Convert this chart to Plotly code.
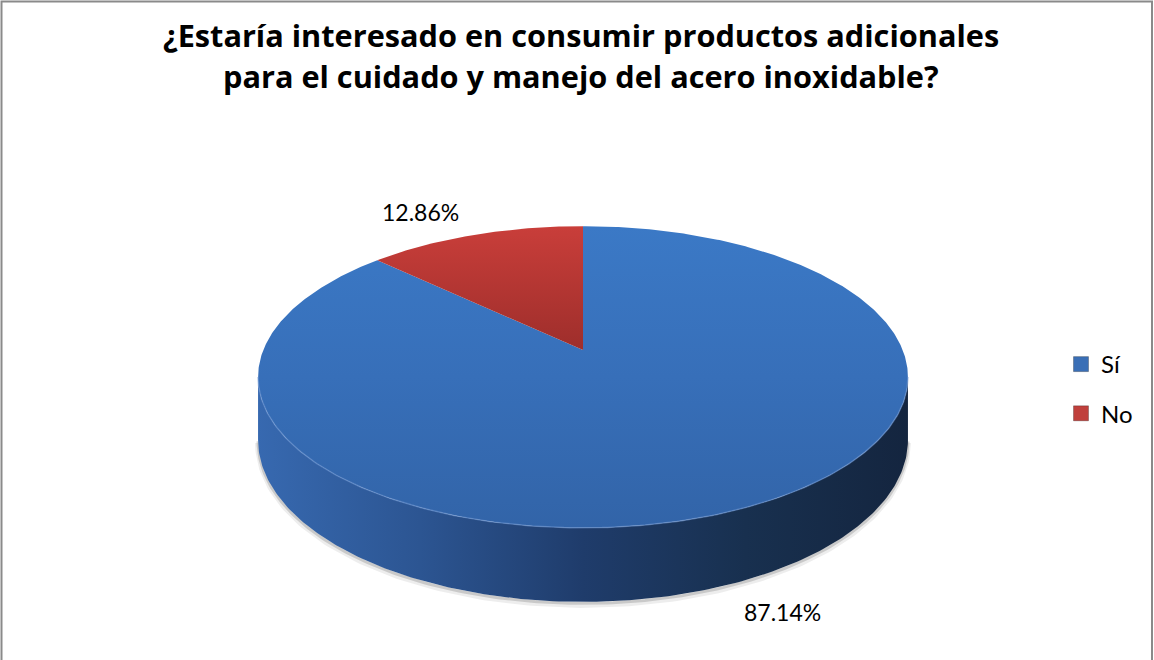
import numpy as np
import plotly.graph_objects as go

# ---- data ----
categories = ["Sí", "No"]
values = [87.14, 12.86]

TITLE_LINES = ["¿Estaría interesado en consumir productos adicionales",
               "para el cuidado y manejo del acero inoxidable?"]

W, H = 1154, 660

# ---- 3-D pie geometry (perspective projection of a disk) ----
CX, CY = 583.0, 350.0     # projected centre of the top face
AX, BY = 319.7, 146.0     # horizontal / vertical scale
K = 0.179                 # perspective factor
DEPTH = 60.8              # thickness of the disk


def proj(theta_deg, depth=0.0, r=1.0):
    t = np.radians(theta_deg)
    X = r * np.sin(t)
    Y = r * np.cos(t)
    d = 1.0 + K * Y
    return CX + AX * X / d, CY - BY * Y / d + DEPTH * depth / d


total = float(sum(values))
angles = np.cumsum([0.0] + [v / total * 360.0 for v in values])

fig = go.Figure()

# visible part of the rim: between the two silhouette points
ta = np.degrees(np.arccos(-K))
tb = 360.0 - ta
rim = np.linspace(ta, tb, 200)

# soft shadow under the rim
sx, sy = proj(rim, depth=1.0)
fig.add_trace(go.Scatter(x=sx, y=sy + 3, mode="lines",
                         line=dict(color="rgba(0,0,0,0.07)", width=6),
                         hoverinfo="skip", showlegend=False))
fig.add_trace(go.Scatter(x=sx, y=sy + 1.5, mode="lines",
                         line=dict(color="rgba(0,0,0,0.15)", width=3),
                         hoverinfo="skip", showlegend=False))

# side of the disk (belongs to the slices covering the front half)
for i, (a0, a1) in enumerate(zip(angles[:-1], angles[1:])):
    lo, hi = max(a0, ta), min(a1, tb)
    if hi <= lo:
        continue
    th = np.linspace(lo, hi, 200)
    x_top, y_top = proj(th)
    x_bot, y_bot = proj(th[::-1], depth=1.0)
    side_scale = ([[0.0, "#3769b0"], [0.25, "#2c5592"], [0.5, "#1f3c6b"],
                   [0.75, "#18304f"], [1.0, "#14253f"]] if i == 0 else
                  [[0.0, "#a8302d"], [1.0, "#5a1a18"]])
    fig.add_trace(go.Scatter(
        x=np.concatenate([x_top, x_bot]), y=np.concatenate([y_top, y_bot]),
        mode="lines", fill="toself", line=dict(width=0),
        fillgradient=dict(type="horizontal", colorscale=side_scale,
                          start=CX - AX * 1.02, stop=CX + AX * 1.02),
        hoverinfo="skip", showlegend=False))

# top faces of the slices
for i, (a0, a1) in enumerate(zip(angles[:-1], angles[1:])):
    th = np.linspace(a0, a1, max(int((a1 - a0) * 2), 8))
    x_arc, y_arc = proj(th)
    xs = np.concatenate([[CX], x_arc, [CX]])
    ys = np.concatenate([[CY], y_arc, [CY]])
    if i == 0:
        scale = [[0.0, "#3b79c6"], [0.5, "#376fb9"], [1.0, "#3264a8"]]
        st, sp = CY - BY / (1 + K), CY + BY / (1 - K)
    else:
        scale = [[0.0, "#c93e3a"], [1.0, "#9e2e2b"]]
        st, sp = CY - BY / (1 + K), CY
    fig.add_trace(go.Scatter(
        x=xs, y=ys, mode="lines", fill="toself", line=dict(width=0),
        fillgradient=dict(type="vertical", colorscale=scale, start=st, stop=sp),
        hoverinfo="skip", showlegend=False))

# light edge between the top face and the rim
ex, ey = proj(rim)
fig.add_trace(go.Scatter(x=ex, y=ey, mode="lines",
                         line=dict(color="rgba(110,150,210,0.55)", width=1.5),
                         hoverinfo="skip", showlegend=False))

# legend entries
legend_colors = ["#3a6fb6", "#c0403c"]
for i, (cat, col) in enumerate(zip(categories, legend_colors)):
    fig.add_trace(go.Scatter(
        x=[None], y=[None], mode="markers", name=cat,
        marker=dict(symbol="square", size=15, color=col,
                    line=dict(color="rgba(0,0,0,0.25)", width=1)),
        legendgroup=cat, showlegend=True))

# data labels
label_pos = {"Sí": (782, 612), "No": (420, 212)}
for cat, v in zip(categories, values):
    lx, ly = label_pos[cat]
    fig.add_annotation(x=lx, y=ly, xref="x", yref="y", showarrow=False,
                       text=f"{v:.2f}%",
                       font=dict(family="Lato", size=23, color="#000000"),
                       xanchor="center", yanchor="middle")

# title, one annotation per line
for line, ty in zip(TITLE_LINES, [35, 76]):
    fig.add_annotation(x=581, y=ty, xref="x", yref="y", showarrow=False,
                       text=f"<b>{line}</b>", align="center",
                       font=dict(family="Open Sans", size=30.7, color="#000000"),
                       xanchor="center", yanchor="middle")

# chart border
fig.add_shape(type="rect", xref="x", yref="y", x0=1.5, y0=1.5, x1=1152, y1=668,
              line=dict(color="#8a8a8a", width=2), fillcolor="rgba(0,0,0,0)")

fig.update_layout(
    width=W, height=H,
    margin=dict(l=0, r=0, t=0, b=0),
    paper_bgcolor="white", plot_bgcolor="white",
    xaxis=dict(range=[0, W], visible=False, fixedrange=True),
    yaxis=dict(range=[H, 0], visible=False, fixedrange=True),
    showlegend=True,
    legend=dict(x=1061 / W, y=1 - 342 / H, xanchor="left", yanchor="top",
                font=dict(family="Lato", size=24, color="#000000"),
                tracegroupgap=15, itemwidth=30, bgcolor="rgba(0,0,0,0)"),
)

fig.write_html("out.html")
